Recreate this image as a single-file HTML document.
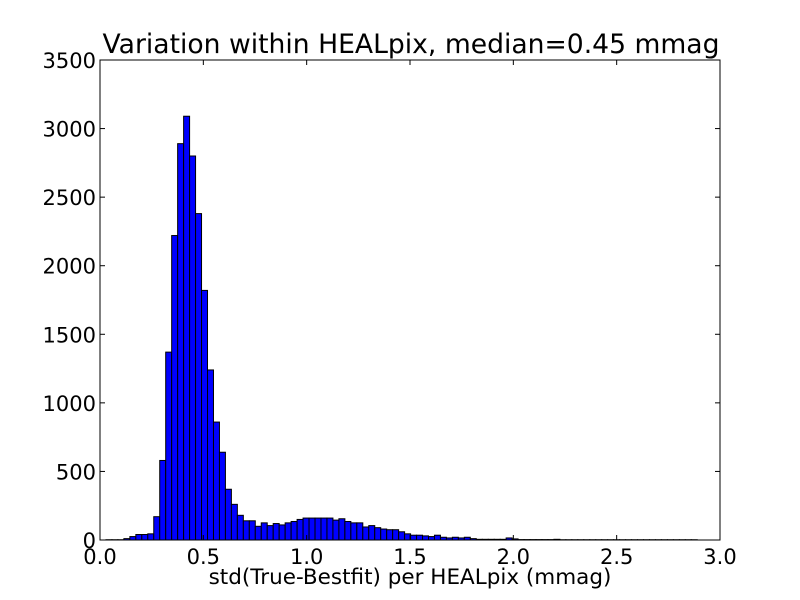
<!DOCTYPE html>
<html><head><meta charset="utf-8"><style>
html,body{margin:0;padding:0;background:#fff;}
svg{display:block;font-family:"DejaVu Sans","Liberation Sans",sans-serif;}
</style></head><body>
<svg id="chart" width="800" height="600" viewBox="0 0 800 600" xmlns="http://www.w3.org/2000/svg">
<rect x="0" y="0" width="800" height="600" fill="#fff"/>
<text x="411" y="53" font-size="26.6" text-anchor="middle">Variation within HEALpix, median=0.45 mmag</text>
<text x="410" y="584" font-size="21.5" text-anchor="middle">std(True-Bestfit) per HEALpix (mmag)</text>
<g id="bars"></g>
<g id="axes"></g>
</svg>
<script>
const binStart = 0;
const binWidth = 0.0289;
const counts = [0,2,2,2,10,25,40,40,45,170,580,1370,2220,2890,3090,2800,2380,1820,1240,860,640,370,260,180,140,140,100,125,105,120,110,125,135,150,160,160,160,160,160,145,155,135,125,125,95,105,90,80,75,75,60,45,35,35,30,25,35,20,15,20,15,20,10,5,5,5,5,5,15,8,3,3,3,3,3,3,5,2,2,2,2,2,2,2,2,2,2,2,2,2,2,2,2,2,2,2,2,2,2,2];
const xTicks = [0,0.5,1,1.5,2,2.5,3];
const xTickLabels = ["0.0","0.5","1.0","1.5","2.0","2.5","3.0"];
const yTicks = [0,500,1000,1500,2000,2500,3000,3500];
const yTickLabels = ["0","500","1000","1500","2000","2500","3000","3500"];

const L=100,R=720,T=60,B=540,XMAX=3,YMAX=3500;
const xs = v => L + v/XMAX*(R-L);
const ys = v => B - v/YMAX*(B-T);
const NS="http://www.w3.org/2000/svg";
const bars=document.getElementById('bars');
const axes=document.getElementById('axes');
counts.forEach((c,i)=>{
  const x0=xs(binStart+i*binWidth), x1=xs(binStart+(i+1)*binWidth);
  const r=document.createElementNS(NS,'rect');
  r.setAttribute('x',x0);r.setAttribute('y',ys(c));
  r.setAttribute('width',x1-x0);r.setAttribute('height',B-ys(c));
  r.setAttribute('fill','#0000ff');r.setAttribute('stroke','#000');r.setAttribute('stroke-width','1');
  
  
  bars.appendChild(r);
});
const frame=document.createElementNS(NS,'rect');
frame.setAttribute('x',L);frame.setAttribute('y',T);frame.setAttribute('width',R-L);frame.setAttribute('height',B-T);
frame.setAttribute('fill','none');frame.setAttribute('stroke','#000');frame.setAttribute('stroke-width','1');


axes.appendChild(frame);
function line(x1,y1,x2,y2,name){
  const l=document.createElementNS(NS,'line');
  l.setAttribute('x1',x1);l.setAttribute('y1',y1);l.setAttribute('x2',x2);l.setAttribute('y2',y2);
  l.setAttribute('stroke','#000');l.setAttribute('stroke-width','1');
  
  
  axes.appendChild(l);
}
function text(x,y,s,anchor,name){
  const t=document.createElementNS(NS,'text');
  t.setAttribute('x',x);t.setAttribute('y',y);t.setAttribute('font-size','21');t.setAttribute('text-anchor',anchor);
  t.textContent=s;
  
  
  axes.appendChild(t);
}
xTicks.forEach((v,i)=>{
  const x=xs(v);
  line(x,B,x,B-5,'x-tick');line(x,T,x,T+5,'x-tick-top');
  text(x,B+24,xTickLabels[i],'middle','x-tick-label');
});
yTicks.forEach((v,i)=>{
  const y=ys(v);
  line(L,y,L+5,y,'y-tick');line(R,y,R-5,y,'y-tick-right');
  text(L-4,y+8,yTickLabels[i],'end','y-tick-label');
});
</script>
</body></html>
